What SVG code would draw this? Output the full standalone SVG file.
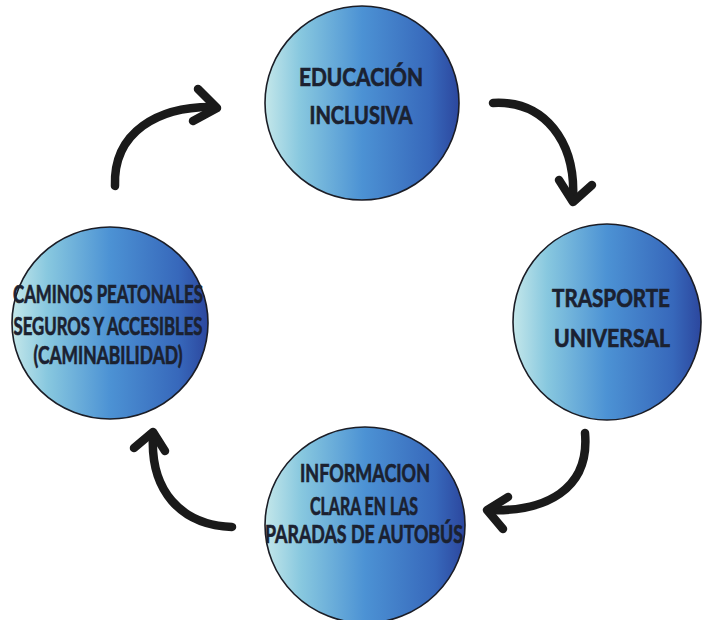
<svg xmlns="http://www.w3.org/2000/svg" width="703" height="620" viewBox="0 0 703 620">
  <defs>
    <linearGradient id="ballFill" x1="0" y1="0" x2="1" y2="0">
      <stop offset="0" stop-color="#c4e7ea"/>
      <stop offset="0.18" stop-color="#88c8df"/>
      <stop offset="0.5" stop-color="#4c92d4"/>
      <stop offset="0.85" stop-color="#3768bb"/>
      <stop offset="1" stop-color="#2c479e"/>
    </linearGradient>
    <style>
      .ball { fill: url(#ballFill); stroke: #1b1d26; stroke-width: 1.6; }
      .lbl { font-family: Lato, "Open Sans", "Liberation Sans", sans-serif; font-weight: 700; font-size: 25px; fill: #1b2130; stroke: #1b2130; stroke-width: 0.7; text-anchor: middle; }
      .arc { fill: none; stroke: #1a1a1a; stroke-width: 8.5; stroke-linecap: round; stroke-linejoin: round; }
    </style>
  </defs>
  <rect width="703" height="620" fill="#ffffff"/>

  <!-- connectors: hand-drawn style curved arrows, clockwise cycle -->
  <g id="connectors">
    <path class="arc" d="M115,186 C113,132 158,106 214,107"/>
    <path class="arc" d="M198,89 L217,108 L193,121"/>

    <path class="arc" d="M493,103 C545,100 576,142 573,199"/>
    <path class="arc" d="M559,180 L573,202 L592,185"/>

    <path class="arc" d="M585,433 C590,490 545,512 489,510"/>
    <path class="arc" d="M508,497 L487,510 L503,529"/>

    <path class="arc" d="M232,527 C180,525 150,490 153,435"/>
    <path class="arc" d="M134,448 L153,432 L165,451"/>
  </g>

  <g id="node-educacion">
    <ellipse class="ball" cx="362" cy="103" rx="97" ry="97"/>
    <text class="lbl" x="361" y="86" textLength="124" lengthAdjust="spacingAndGlyphs">EDUCACIÓN</text>
    <text class="lbl" x="361" y="124" textLength="103" lengthAdjust="spacingAndGlyphs">INCLUSIVA</text>
  </g>

  <g id="node-transporte">
    <ellipse class="ball" cx="607" cy="322" rx="94" ry="98"/>
    <text class="lbl" x="611" y="307" textLength="118" lengthAdjust="spacingAndGlyphs">TRASPORTE</text>
    <text class="lbl" x="612" y="347" textLength="116" lengthAdjust="spacingAndGlyphs">UNIVERSAL</text>
  </g>

  <g id="node-informacion">
    <ellipse class="ball" cx="365" cy="525" rx="100" ry="98"/>
    <text class="lbl" x="365" y="482" textLength="130" lengthAdjust="spacingAndGlyphs">INFORMACION</text>
    <text class="lbl" x="364" y="515" textLength="108" lengthAdjust="spacingAndGlyphs">CLARA EN LAS</text>
    <text class="lbl" x="364" y="543" textLength="198" lengthAdjust="spacingAndGlyphs">PARADAS DE AUTOBÚS</text>
  </g>

  <g id="node-caminos">
    <ellipse class="ball" cx="110" cy="323" rx="98" ry="96"/>
    <text class="lbl" x="108" y="303" textLength="190" lengthAdjust="spacingAndGlyphs">CAMINOS PEATONALES</text>
    <text class="lbl" x="108" y="335" textLength="189" lengthAdjust="spacingAndGlyphs">SEGUROS Y ACCESIBLES</text>
    <text class="lbl" x="108" y="364" textLength="149" lengthAdjust="spacingAndGlyphs">(CAMINABILIDAD)</text>
  </g>
</svg>
